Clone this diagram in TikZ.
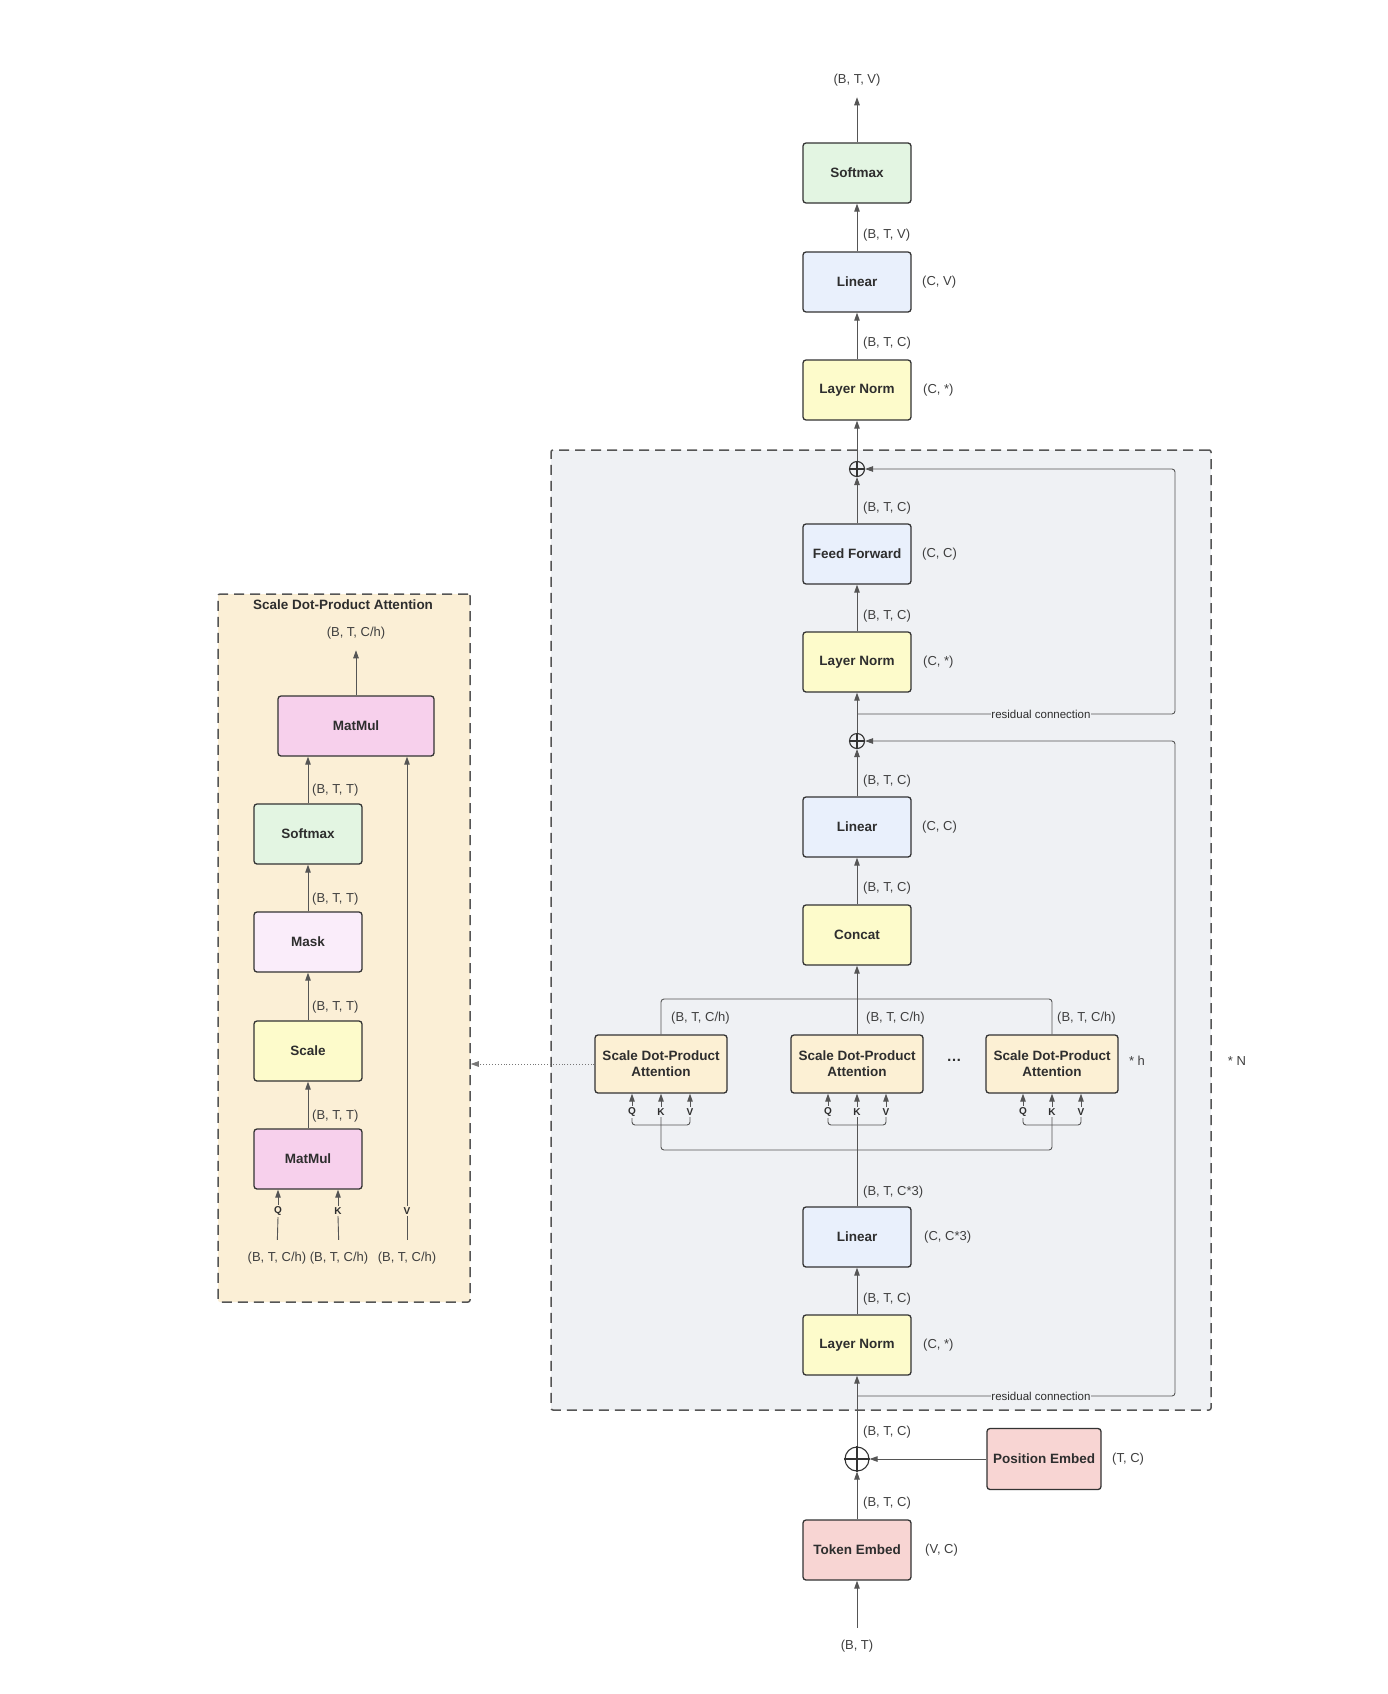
\documentclass[tikz,border=0pt]{standalone}
\usepackage{fontspec}
\setmainfont{Liberation Sans}
\usetikzlibrary{arrows.meta}
\definecolor{cgreen}{HTML}{E3F5E2}
\definecolor{cblue}{HTML}{E9F0FC}
\definecolor{cyellow}{HTML}{FDFBCB}
\definecolor{corange}{HTML}{FCF0D4}
\definecolor{cpanel}{HTML}{FBEFD6}
\definecolor{cgray}{HTML}{EFF1F4}
\definecolor{cpink}{HTML}{F7D0EC}
\definecolor{cmask}{HTML}{FAEDFA}
\definecolor{cembed}{HTML}{F8D5D3}
\definecolor{bordc}{HTML}{333333}
\definecolor{textc}{HTML}{2E2E2E}
\definecolor{lblc}{HTML}{3F3F3F}
\definecolor{linec}{HTML}{555555}
\begin{document}
\begin{tikzpicture}[x=1pt,y=-1pt,
  box/.style={draw=bordc, line width=1.3pt, rounded corners=3pt, minimum width=108pt, minimum height=60pt,
    font=\fontsize{13.5}{16}\selectfont\bfseries, text=textc, inner sep=0pt, align=center},
  lbl/.style={font=\fontsize{13}{15}\selectfont, text=lblc, inner sep=0pt},
  qkv/.style={font=\fontsize{10}{12}\selectfont\bfseries, text=textc, inner sep=1.5pt},
  reslbl/.style={font=\fontsize{11.5}{13}\selectfont, text=textc, inner sep=0.5pt},
  conn/.style={draw=linec, line width=0.9pt},
  arr/.style={conn, -{Triangle[length=8pt,width=5.5pt]}},
  addnode/.style={circle, draw=bordc, line width=1.1pt, minimum size=15pt, inner sep=0pt},
  panel/.style={draw=linec, line width=1.5pt, dash pattern=on 10pt off 6pt, rounded corners=2pt, inner sep=0pt}
]
\useasboundingbox (0,0) rectangle (1388,1694);
\fill[white] (0,0) rectangle (1388,1694);

% panels
\node[panel, fill=cgray, minimum width=660pt, minimum height=960pt] (block) at (881,930) {};
\node[panel, fill=cpanel, minimum width=252pt, minimum height=708pt] (sdpanel) at (344,948) {};

% ===== main column =====
\node[lbl] (out) at (857,80) {(B, T, V)};
\node[box, fill=cgreen] (smax) at (857,173) {Softmax};
\node[box, fill=cblue] (lin1) at (857,282) {Linear};
\node[box, fill=cyellow] (ln1) at (857,390) {Layer Norm};
\node[addnode] (add1) at (857,469) {};
\node[box, fill=cblue] (ff) at (857,554) {Feed Forward};
\node[box, fill=cyellow] (ln2) at (857,662) {Layer Norm};
\node[addnode] (add2) at (857,741) {};
\node[box, fill=cblue] (lin2) at (857,827) {Linear};
\node[box, fill=cyellow] (concat) at (857,935) {Concat};
\node[box, fill=corange, minimum width=132pt, minimum height=58pt] (sd1) at (661,1064) {Scale Dot-Product\\Attention};
\node[box, fill=corange, minimum width=132pt, minimum height=58pt] (sd2) at (857,1064) {Scale Dot-Product\\Attention};
\node[box, fill=corange, minimum width=132pt, minimum height=58pt] (sd3) at (1052,1064) {Scale Dot-Product\\Attention};
\node[box, fill=cblue] (lin3) at (857,1237) {Linear};
\node[box, fill=cyellow] (ln3) at (857,1345) {Layer Norm};
\node[addnode, minimum size=24pt] (addb) at (857,1459) {};
\node[box, fill=cembed, minimum width=114pt, minimum height=61pt] (pos) at (1044,1459) {Position Embed};
\node[box, fill=cembed] (tok) at (857,1550) {Token Embed};
\node[lbl] (inp) at (857,1646) {(B, T)};

% plus signs
\foreach \n in {add1,add2,addb}{
  \draw[draw=bordc, line width=1.1pt] (\n.north) -- (\n.south) (\n.west) -- (\n.east);
}

% side labels main
\node[lbl, anchor=west] (l1) at (863,235) {(B, T, V)};
\node[lbl, anchor=west] (l2) at (922,282) {(C, V)};
\node[lbl, anchor=west] (l3) at (863,343) {(B, T, C)};
\node[lbl, anchor=west] (l4) at (923,390) {(C, *)};
\node[lbl, anchor=west] (l5) at (863,508) {(B, T, C)};
\node[lbl, anchor=west] (l6) at (922,554) {(C, C)};
\node[lbl, anchor=west] (l7) at (863,616) {(B, T, C)};
\node[lbl, anchor=west] (l8) at (923,662) {(C, *)};
\node[lbl, anchor=west] (l9) at (863,781) {(B, T, C)};
\node[lbl, anchor=west] (l10) at (922,827) {(C, C)};
\node[lbl, anchor=west] (l11) at (863,888) {(B, T, C)};
\node[lbl, anchor=west] (l12) at (671,1018) {(B, T, C/h)};
\node[lbl, anchor=west] (l13) at (866,1018) {(B, T, C/h)};
\node[lbl, anchor=west] (l14) at (1057,1018) {(B, T, C/h)};
\node[font=\fontsize{15}{15}\selectfont\bfseries, text=textc, inner sep=0pt] (dots) at (954,1060) {…};
\node[lbl] (sh) at (1137,1061) {* h};
\node[lbl] (sn) at (1237,1061) {* N};
\node[lbl, anchor=west] (l15) at (863,1192) {(B, T, C*3)};
\node[lbl, anchor=west] (l16) at (924,1237) {(C, C*3)};
\node[lbl, anchor=west] (l17) at (863,1299) {(B, T, C)};
\node[lbl, anchor=west] (l18) at (923,1345) {(C, *)};
\node[lbl, anchor=west] (l19) at (863,1432) {(B, T, C)};
\node[lbl, anchor=west] (l20) at (1112,1459) {(T, C)};
\node[lbl, anchor=west] (l21) at (863,1503) {(B, T, C)};
\node[lbl, anchor=west] (l22) at (925,1550) {(V, C)};

% main connectors
\draw[arr, shorten >=11pt] (smax.north) -- (out.south);
\draw[arr] (lin1.north) -- (smax.south);
\draw[arr] (ln1.north) -- (lin1.south);
\draw[arr] (add1.north) -- (ln1.south);
\draw[arr] (ff.north) -- (add1.south);
\draw[arr] (ln2.north) -- (ff.south);
\draw[arr] (add2.north) -- (ln2.south);
\draw[arr] (lin2.north) -- (add2.south);
\draw[arr] (concat.north) -- (lin2.south);
\draw[arr] (sd2.north) -- (concat.south);
\coordinate (tbus) at (857,999);
\draw[conn, rounded corners=3pt] (sd1.north) |- (tbus) -| (sd3.north);

% QKV inputs of heads
\foreach \i/\x in {1/661,2/857,3/1052}{
  \node[qkv] (q\i) at (\x-29,1112) {Q};
  \node[qkv] (k\i) at (\x,1112) {K};
  \node[qkv] (v\i) at (\x+29,1112) {V};
  \draw[arr] (q\i.north) -- (q\i.north |- sd\i.south);
  \draw[arr] (k\i.north) -- (k\i.north |- sd\i.south);
  \draw[arr] (v\i.north) -- (v\i.north |- sd\i.south);
  \coordinate (br\i) at (\x,1125);
  \draw[conn, rounded corners=3pt] (q\i.south) |- (br\i) -| (v\i.south);
}
\coordinate (bbus) at (857,1150);
\draw[conn, rounded corners=3pt] (k1.south) |- (bbus) -| (k3.south);
\draw[conn] (lin3.north) -- (k2.south);
\draw[arr] (ln3.north) -- (lin3.south);
\draw[arr] (addb.north) -- (ln3.south);
\draw[arr] (tok.north) -- (addb.south);
\draw[arr] (pos.west) -- (addb.east);
\draw[arr, shorten <=12pt] (inp.north) -- (tok.south);

% residual connections
\coordinate (r1) at (857,714);
\coordinate (rc1) at (1175,714);
\draw[arr, rounded corners=3pt] (r1) -- (rc1) |- (add1.east);
\node[reslbl, fill=cgray] (res1) at (1041,714) {residual connection};
\coordinate (r2) at (857,1396);
\coordinate (rc2) at (1175,1396);
\draw[arr, rounded corners=3pt] (r2) -- (rc2) |- (add2.east);
\node[reslbl, fill=cgray] (res2) at (1041,1396) {residual connection};

% dotted link to detail panel
\draw[draw=linec!80, line width=0.9pt, dotted, -{Triangle[length=8pt,width=5.5pt]}] (sd1.west) -- (sd1.west -| sdpanel.east);

% ===== left panel =====
\node[font=\fontsize{13.5}{16}\selectfont\bfseries, text=textc, inner sep=0pt] (title) at (343,605) {Scale Dot-Product Attention};
\node[lbl] (outl) at (356,633) {(B, T, C/h)};
\node[box, fill=cpink, minimum width=156pt] (mm2) at (356,726) {MatMul};
\node[box, fill=cgreen] (sm2) at (308,834) {Softmax};
\node[box, fill=cmask] (mask) at (308,942) {Mask};
\node[box, fill=cyellow] (scale) at (308,1051) {Scale};
\node[box, fill=cpink] (mm1) at (308,1159) {MatMul};
\node[lbl, anchor=west] (t1) at (312,790) {(B, T, T)};
\node[lbl, anchor=west] (t2) at (312,899) {(B, T, T)};
\node[lbl, anchor=west] (t3) at (312,1007) {(B, T, T)};
\node[lbl, anchor=west] (t4) at (312,1116) {(B, T, T)};
\node[qkv] (q0) at (278,1211) {Q};
\node[qkv] (k0) at (338,1211) {K};
\node[qkv] (v0) at (407,1211) {V};
\node[lbl] (qin) at (277,1258) {(B, T, C/h)};
\node[lbl] (kin) at (339,1258) {(B, T, C/h)};
\node[lbl] (vin) at (407,1258) {(B, T, C/h)};

\draw[arr, shorten >=11pt] (mm2.north) -- (outl.south);
\draw[arr] (sm2.north) -- (sm2.north |- mm2.south);
\draw[arr] (mask.north) -- (sm2.south);
\draw[arr] (scale.north) -- (mask.south);
\draw[arr] (mm1.north) -- (scale.south);
\draw[arr] (q0.north) -- (q0.north |- mm1.south);
\draw[arr] (k0.north) -- (k0.north |- mm1.south);
\draw[arr] (v0.north) -- (v0.north |- mm2.south);
\draw[conn, shorten <=12pt] (qin.north) -- (q0.south);
\draw[conn, shorten <=12pt] (kin.north) -- (k0.south);
\draw[conn, shorten <=12pt] (vin.north) -- (v0.south);
\end{tikzpicture}
\end{document}
